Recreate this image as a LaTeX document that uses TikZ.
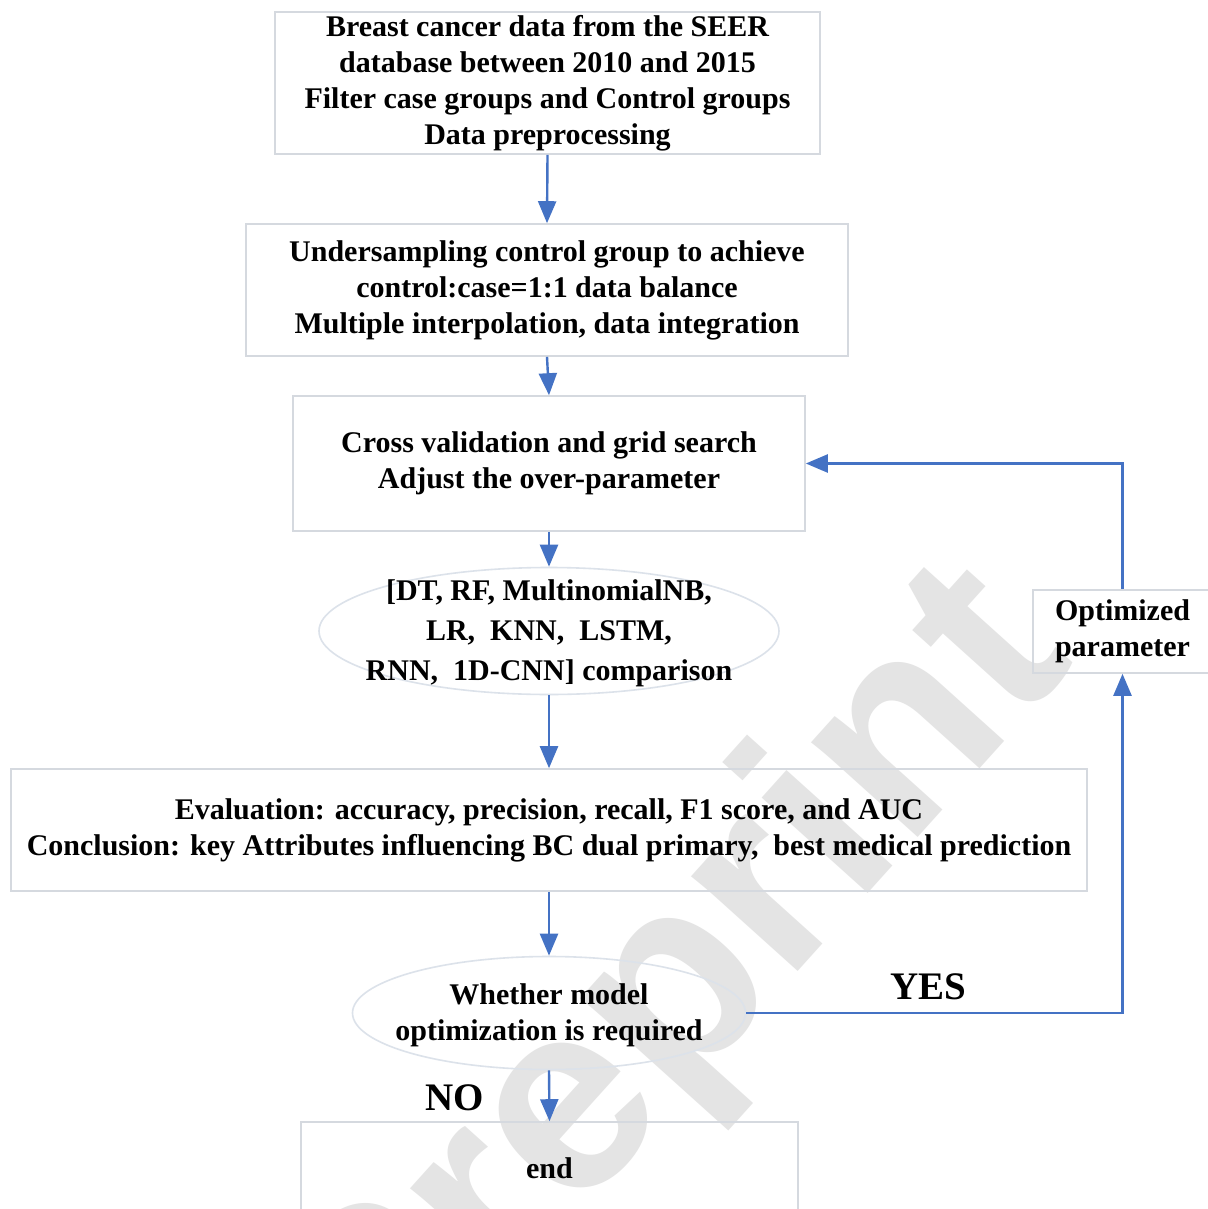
\documentclass[tikz,border=0pt]{standalone}
\usepackage{fontspec}
\setmainfont{Liberation Serif}
\newfontfamily\wmfont{Liberation Sans}
\usetikzlibrary{arrows.meta,shapes.geometric}
\definecolor{arrowblue}{HTML}{4472C4}
\definecolor{boxgray}{HTML}{D5D9DF}
\definecolor{ellgray}{HTML}{DCE2EA}
\definecolor{wmgray}{HTML}{E4E4E4}
\begin{document}
\begin{tikzpicture}[x=0.5pt,y=-0.5pt,
  box/.style={draw=boxgray,line width=0.8pt,rectangle,align=center,inner sep=0pt,
    font=\fontsize{15}{18}\selectfont\bfseries},
  oval/.style={draw=ellgray,line width=0.8pt,ellipse,inner sep=0pt},
  txt/.style={align=center,inner sep=0pt,font=\fontsize{15}{18}\selectfont\bfseries},
  arr/.style={draw=arrowblue,line width=1.2pt,-{Triangle[width=9pt,length=11pt]}},
  lbl/.style={inner sep=0pt,font=\fontsize{19.5}{22}\selectfont\bfseries}]
\useasboundingbox (0,0) rectangle (1208,1209);
\fill[white] (0,0) rectangle (1208,1209);

% watermark
\node[rotate=48,text=wmgray,inner sep=0pt,font=\wmfont\fontsize{135}{135}\selectfont\bfseries] (wm) at (678,1000) {Preprint};

\node[box,minimum width=272.5pt,minimum height=71pt] (b1) at (547.5,83)
  {Breast cancer data from the SEER\\database between 2010 and 2015\\Filter case groups and Control groups\\Data preprocessing};
\node[box,minimum width=301pt,minimum height=66pt] (b2) at (547,290)
  {Undersampling control group to achieve\\control:case=1:1 data balance\\Multiple interpolation, data integration};
\node[box,minimum width=256pt,minimum height=67.5pt] (b3) at (549,463.5)
  {Cross validation and grid search\\Adjust the over-parameter};
\node[oval,minimum width=230pt,minimum height=63.5pt] (e1) at (549,631) {};
\node[txt,font=\fontsize{15}{20}\selectfont\bfseries] (t1) at (549,633) {[DT, RF, MultinomialNB,\\LR,\ \ KNN,\ \ LSTM,\\RNN,\ \ 1D-CNN] comparison};
\node[box,minimum width=538pt,minimum height=61pt] (b4) at (549,830)
  {Evaluation: accuracy, precision, recall, F1 score, and AUC\\Conclusion: key Attributes influencing BC dual primary,\ \ best medical prediction};
\node[oval,minimum width=196.5pt,minimum height=56.5pt] (e2) at (549,1013) {};
\node[txt] (t2) at (549,1015) {Whether model\\optimization is required};
\node[box,minimum width=89.5pt,minimum height=41.5pt] (opt) at (1122.5,631.5)
  {Optimized\\parameter};
\node[box,minimum width=248.5pt,minimum height=46.5pt] (end) at (549.5,1168.5) {end};

\node[lbl] (yes) at (928,987) {YES};
\node[lbl] (no) at (455,1098) {NO};

\draw[arr] (b1.south) -- (b2.north);
\draw[arr] (b2.south) -- (b3.north);
\draw[arr] (b3.south) -- (e1.north);
\draw[arr] (e1.south) -- (b4.north);
\draw[arr] (b4.south) -- (e2.north);
\draw[arr] (e2.south) -- (end.north);
\draw[arr] (e2.east) -| (opt.south);
\draw[arr] (opt.north) |- (b3.east);
\end{tikzpicture}
\end{document}
